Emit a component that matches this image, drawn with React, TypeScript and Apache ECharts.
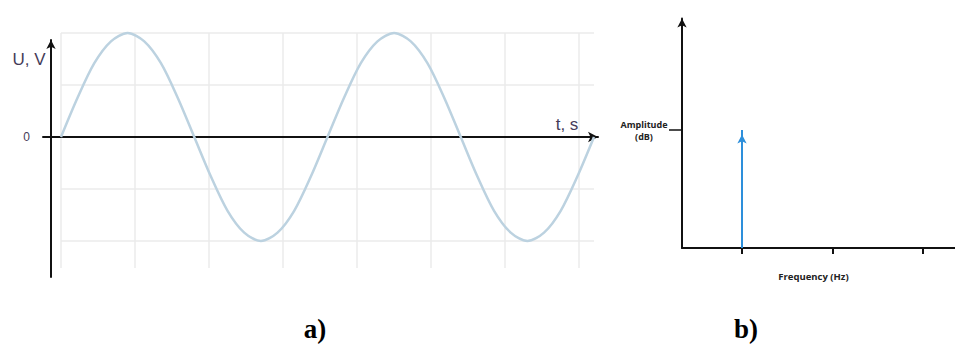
import { useEffect, useRef } from 'react';
import * as echarts from 'echarts';

// a) sinusoidal voltage: time in grid divisions, voltage normalised to peak
const timeSamples = [
  0, 0.225, 0.45, 0.675, 0.9, 1.125, 1.35, 1.575, 1.8, 2.025, 2.25, 2.475, 2.7, 2.925, 3.15, 3.375,
  3.6, 3.825, 4.05, 4.275, 4.5, 4.725, 4.95, 5.175, 5.4, 5.625, 5.85, 6.075, 6.3, 6.525, 6.75, 6.975, 7.2,
];
const voltageSamples = [
  0, 0.38, 0.71, 0.92, 1, 0.92, 0.71, 0.38, 0, -0.38, -0.71, -0.92, -1, -0.92, -0.71, -0.38,
  0, 0.38, 0.71, 0.92, 1, 0.92, 0.71, 0.38, 0, -0.38, -0.71, -0.92, -1, -0.92, -0.71, -0.38, 0,
];

// b) spectrum: harmonic order (multiples of the fundamental) and its amplitude
const harmonicOrders = [1];
const harmonicAmplitudes = [1];
const frequencyTicks = [1, 2, 3];
const amplitudeTicks = [1];

const INK = '#111111';
const LABEL_INK = '#463c58';
const GRID_GRAY = '#ebebeb';
const WAVE_BLUE = '#bcd2e0';
const STEM_BLUE = '#2d8fdb';

export default function App() {
  const ref = useRef<HTMLDivElement>(null);

  useEffect(() => {
    if (!ref.current) return;
    const chart = echarts.init(ref.current, null, { renderer: 'svg' });

    const wave = timeSamples.map((t, i) => [t, voltageSamples[i]]);

    const stems = harmonicOrders.map((f, i) => ({
      type: 'line',
      xAxisIndex: 3,
      yAxisIndex: 3,
      data: [
        { value: [f, 0], symbol: 'none' },
        { value: [f, harmonicAmplitudes[i]] },
      ],
      symbol: 'arrow',
      symbolSize: [7, 9],
      symbolOffset: [0, 4.5],
      showSymbol: true,
      lineStyle: { color: STEM_BLUE, width: 2 },
      itemStyle: { color: STEM_BLUE },
      clip: false,
      z: 5,
    }));

    const hidden = { show: false };

    chart.setOption({
      animation: false,
      grid: [
        { left: 61, top: 33, width: 533, height: 208 },
        { left: 61, top: 33, width: 518, height: 235 },
        { left: 43, top: 40, width: 555, height: 237 },
        { left: 682, top: 18.5, right: 0, height: 229.5 },
      ],
      xAxis: [
        {
          gridIndex: 0, type: 'value', min: 0, max: 7.2,
          axisLine: hidden, axisTick: hidden, axisLabel: hidden, splitLine: hidden,
        },
        {
          gridIndex: 1, type: 'value', min: 0, max: 7, interval: 1,
          axisLine: hidden, axisTick: hidden, axisLabel: hidden,
          splitLine: { show: true, lineStyle: { color: GRID_GRAY, width: 1.5 } },
        },
        {
          gridIndex: 2, type: 'value', min: -0.108, max: 7.392,
          axisLine: {
            show: true, onZero: true,
            symbol: ['none', 'arrow'], symbolSize: [8, 10],
            lineStyle: { color: INK, width: 2 },
          },
          axisTick: hidden, axisLabel: hidden, splitLine: hidden,
        },
        {
          gridIndex: 3, type: 'value', min: 0.337, max: 3.354,
          axisLine: { show: true, onZero: false, lineStyle: { color: INK, width: 2 } },
          axisTick: {
            show: true, customValues: frequencyTicks, length: 6, inside: false,
            lineStyle: { color: INK, width: 2 },
          },
          axisLabel: hidden, splitLine: hidden,
          name: 'Frequency (Hz)', nameLocation: 'middle', nameGap: 23,
          nameTextStyle: {
            fontFamily: 'Open Sans', fontWeight: 'bold', fontSize: 9.5,
            color: '#222', padding: [0, 10, 0, 0],
          },
        },
      ],
      yAxis: [
        {
          gridIndex: 0, type: 'value', min: -1, max: 1, interval: 0.5,
          axisLine: hidden, axisTick: hidden, axisLabel: hidden,
          splitLine: { show: true, lineStyle: { color: GRID_GRAY, width: 1.5 } },
        },
        {
          gridIndex: 1, type: 'value', min: 0, max: 1,
          axisLine: hidden, axisTick: hidden, axisLabel: hidden, splitLine: hidden,
        },
        {
          gridIndex: 2, type: 'value', min: -1.346, max: 0.933,
          axisLine: {
            show: true, onZero: true,
            symbol: ['none', 'arrow'], symbolSize: [7, 9],
            lineStyle: { color: INK, width: 2 },
          },
          axisTick: hidden,
          axisLabel: {
            show: true, customValues: [0], margin: 13,
            fontFamily: 'Liberation Sans', fontSize: 12, color: LABEL_INK,
            padding: [7, 0, 0, 0],
          },
          splitLine: hidden,
        },
        {
          gridIndex: 3, type: 'value', min: 0, max: 1.945,
          axisLine: {
            show: true, onZero: false,
            symbol: ['none', 'arrow'], symbolSize: [7, 9],
            lineStyle: { color: INK, width: 2 },
          },
          axisTick: {
            show: true, customValues: amplitudeTicks, length: 13, inside: false,
            lineStyle: { color: INK, width: 1.5 },
          },
          axisLabel: {
            show: true, customValues: amplitudeTicks, margin: 38, align: 'center',
            formatter: () => 'Amplitude\n(dB)',
            fontFamily: 'Open Sans', fontWeight: 'bold', fontSize: 9,
            lineHeight: 12, color: '#222',
          },
          splitLine: hidden,
        },
      ],
      series: [
        {
          type: 'line',
          xAxisIndex: 0,
          yAxisIndex: 0,
          data: wave,
          smooth: 0.3,
          showSymbol: false,
          clip: false,
          lineStyle: { color: WAVE_BLUE, width: 2.5 },
          z: 3,
        },
        ...stems,
      ],
      graphic: [
        {
          type: 'text', x: 29, y: 59,
          style: {
            text: 'U, V', fill: LABEL_INK, textAlign: 'center', textVerticalAlign: 'middle',
            font: '17px "Liberation Sans"',
          },
        },
        {
          type: 'text', x: 567, y: 124,
          style: {
            text: 't, s', fill: LABEL_INK, textAlign: 'center', textVerticalAlign: 'middle',
            font: '17px "Liberation Sans"',
          },
        },
        {
          type: 'text', x: 315, y: 329,
          style: {
            text: 'a)', fill: '#000', textAlign: 'center', textVerticalAlign: 'middle',
            font: 'bold 27px "Liberation Serif"',
          },
        },
        {
          type: 'text', x: 746, y: 329,
          style: {
            text: 'b)', fill: '#000', textAlign: 'center', textVerticalAlign: 'middle',
            font: 'bold 27px "Liberation Serif"',
          },
        },
      ],
    });

    return () => chart.dispose();
  }, []);

  return (
    <div
      ref={ref}
      style={{ position: 'fixed', left: 0, top: 0, width: 955, height: 345, background: '#fff' }}
    />
  );
}
